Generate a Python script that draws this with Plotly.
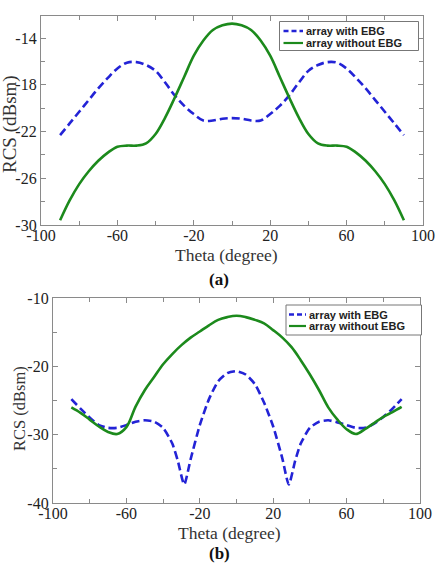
import plotly.graph_objects as go

# ---------- (a) ----------
theta_a = [-90, -85, -80, -75, -70, -65, -60, -55, -50, -45, -40, -35, -30, -25, -20, -15, -10, -5,
           0, 5, 10, 15, 20, 25, 30, 35, 40, 45, 50, 55, 60, 65, 70, 75, 80, 85, 90]
with_ebg_a = [-22.3, -21.3, -20.3, -19.3, -18.3, -17.4, -16.6, -16.1, -16.05, -16.3, -16.8, -17.8, -18.9,
              -19.8, -20.5, -21.05, -21.05, -20.9, -20.85, -20.9, -21.05, -21.05, -20.5, -19.8, -18.9,
              -17.8, -16.8, -16.3, -16.05, -16.1, -16.6, -17.4, -18.3, -19.3, -20.3, -21.3, -22.3]
without_ebg_a = [-29.6, -27.9, -26.5, -25.4, -24.5, -23.8, -23.3, -23.2, -23.2, -23.0, -22.2, -20.8, -19.1,
                 -17.3, -15.5, -14.2, -13.3, -12.9, -12.75, -12.9, -13.3, -14.2, -15.5, -17.3, -19.1,
                 -20.8, -22.2, -23.0, -23.2, -23.2, -23.3, -23.8, -24.5, -25.4, -26.5, -27.9, -29.6]

# ---------- (b) ----------
theta_b_ebg = [-90, -85, -80, -75, -70, -65, -60, -55, -50, -45, -40, -35, -32, -28.5, -25, -20, -15, -10, -5,
               0, 5, 10, 15, 20, 25, 28.5, 32, 35, 40, 45, 50, 55, 60, 65, 70, 75, 80, 85, 90]
with_ebg_b = [-24.8, -26.2, -27.5, -28.6, -29.0, -29.0, -28.6, -28.1, -27.9, -28.1, -29.0, -31.3, -33.8,
              -37.3, -33.6, -28.6, -24.8, -22.2, -21.0, -20.7, -21.2, -22.6, -25.3, -28.8, -33.5, -37.3,
              -33.8, -31.3, -29.0, -28.1, -27.9, -28.2, -28.6, -29.0, -29.0, -28.4, -27.4, -26.2, -24.8]
theta_b = [-90, -85, -80, -75, -70, -65, -60, -55, -50, -45, -40, -35, -30, -25, -20, -15, -10, -5,
           0, 5, 10, 15, 20, 25, 30, 35, 40, 45, 50, 55, 60, 65, 70, 75, 80, 85, 90]
without_ebg_b = [-26.0, -26.8, -27.8, -28.8, -29.6, -29.9, -28.9, -25.9, -23.5, -21.6, -19.7, -18.2, -16.9,
                 -15.8, -14.9, -14.0, -13.2, -12.8, -12.6, -12.8, -13.2, -13.7, -14.7, -15.8, -17.2,
                 -19.1, -21.2, -23.5, -26.0, -27.8, -29.2, -29.9, -29.2, -28.3, -27.4, -26.7, -25.95]

x_ticks = [-100, -60, -20, 20, 60, 100]
x_tick_labels = ["-100", "-60", "-20", "20", "60", "100"]
y_ticks_a = [-30, -26, -22, -18, -14]
y_tick_labels_a = ["-30", "-26", "-22", "-18", "-14"]
y_ticks_b = [-40, -30, -20, -10]
y_tick_labels_b = ["-40", "-30", "-20", "-10"]
series_names = ["array with EBG", "array without EBG"]
captions = ["(a)", "(b)"]
x_title = "Theta (degree)"
y_title = "RCS (dBsm)"

BLUE = "#2323d6"
GREEN = "#1c8a1c"
AX = "#8a8a8a"
SERIF = "Liberation Serif"
SANS = "Liberation Sans"
DASH = "8px,4px"

W, H = 437, 563
def px(x): return x / W
def py(y): return 1 - y / H

fig = go.Figure()
fig.add_trace(go.Scatter(x=theta_a, y=with_ebg_a, mode="lines", name=series_names[0],
                         line=dict(color=BLUE, width=2.6, dash=DASH, shape="spline"),
                         xaxis="x", yaxis="y"))
fig.add_trace(go.Scatter(x=theta_a, y=without_ebg_a, mode="lines", name=series_names[1],
                         line=dict(color=GREEN, width=2.6, shape="spline"),
                         xaxis="x", yaxis="y"))
fig.add_trace(go.Scatter(x=theta_b_ebg, y=with_ebg_b, mode="lines", name=series_names[0],
                         line=dict(color=BLUE, width=2.6, dash=DASH, shape="spline", smoothing=0.6),
                         xaxis="x2", yaxis="y2"))
fig.add_trace(go.Scatter(x=theta_b, y=without_ebg_b, mode="lines", name=series_names[1],
                         line=dict(color=GREEN, width=2.6, shape="spline"),
                         xaxis="x2", yaxis="y2"))

common_ax = dict(showgrid=False, zeroline=False, showline=True, linecolor=AX, linewidth=1.2,
                 mirror="ticks", ticks="inside", ticklen=5, tickcolor=AX, automargin=False,
                 tickfont=dict(family=SERIF, size=16, color="#222"))

fig.update_layout(
    width=W, height=H, margin=dict(l=0, r=0, t=0, b=0, autoexpand=False),
    font=dict(family=SERIF, size=16, color="#222"),
    paper_bgcolor="white", plot_bgcolor="white", showlegend=False,
    xaxis=dict(domain=[px(41), px(423)], range=[-100, 100], tickvals=x_ticks, ticktext=x_tick_labels,
               minor=dict(dtick=20, tick0=-100, ticks="inside", ticklen=4, tickcolor=AX),
               anchor="y", ticklabelstandoff=-4, **common_ax),
    yaxis=dict(domain=[py(225), py(16)], range=[-30, -12.1], tickvals=y_ticks_a, ticktext=y_tick_labels_a,
               minor=dict(dtick=2, tick0=-30, ticks="inside", ticklen=4, tickcolor=AX),
               anchor="x", **common_ax),
    xaxis2=dict(domain=[px(53), px(420)], range=[-100, 100], tickvals=x_ticks, ticktext=x_tick_labels,
                minor=dict(dtick=20, tick0=-100, ticks="inside", ticklen=4, tickcolor=AX),
                anchor="y2", ticklabelstandoff=-4, **common_ax),
    yaxis2=dict(domain=[py(503), py(298)], range=[-40, -10], tickvals=y_ticks_b, ticktext=y_tick_labels_b,
                minor=dict(dtick=5, tick0=-40, ticks="inside", ticklen=4, tickcolor=AX),
                anchor="x2", **common_ax),
)

def note(text, x, y, size, color="#333", angle=0, family=SERIF):
    fig.add_annotation(text=text, x=px(x), y=py(y), xref="paper", yref="paper", showarrow=False,
                       xanchor="center", yanchor="middle", textangle=angle,
                       font=dict(family=family, size=size, color=color))

# axis titles
note(x_title, 226, 255, 17.5)
note(x_title, 229, 533, 17.5)
note(y_title, 10, 124, 19, angle=-90)
note(y_title, 19, 409, 16.5, angle=-90)

# captions
note("<b>" + captions[0] + "</b>", 219, 279, 17, color="#111")
note("<b>" + captions[1] + "</b>", 219, 553, 17, color="#111")

# compact legends drawn as boxes with line samples and labels
def add_legend(x0, y0, x1, y1, row_y, line_x0, line_x1, text_x):
    fig.add_shape(type="rect", xref="paper", yref="paper", x0=px(x0), x1=px(x1), y0=py(y1), y1=py(y0),
                  line=dict(color="#777", width=1), fillcolor="white", layer="above")
    styles = [dict(color=BLUE, width=2.6, dash="5px,3px"), dict(color=GREEN, width=2.2)]
    for i, name in enumerate(series_names):
        fig.add_shape(type="line", xref="paper", yref="paper", x0=px(line_x0), x1=px(line_x1),
                      y0=py(row_y[i]), y1=py(row_y[i]), line=styles[i], layer="above")
        fig.add_annotation(text="<b>" + name + "</b>", x=px(text_x), y=py(row_y[i]), xref="paper", yref="paper",
                           showarrow=False, xanchor="left", yanchor="middle",
                           font=dict(family=SANS, size=11, color="#222"))

add_legend(279.5, 21.5, 418.5, 50.5, [31, 43], 283.5, 303, 304)
add_legend(286, 305, 421.5, 335, [314.5, 326], 289, 306, 307)

fig.write_html("out.html")
